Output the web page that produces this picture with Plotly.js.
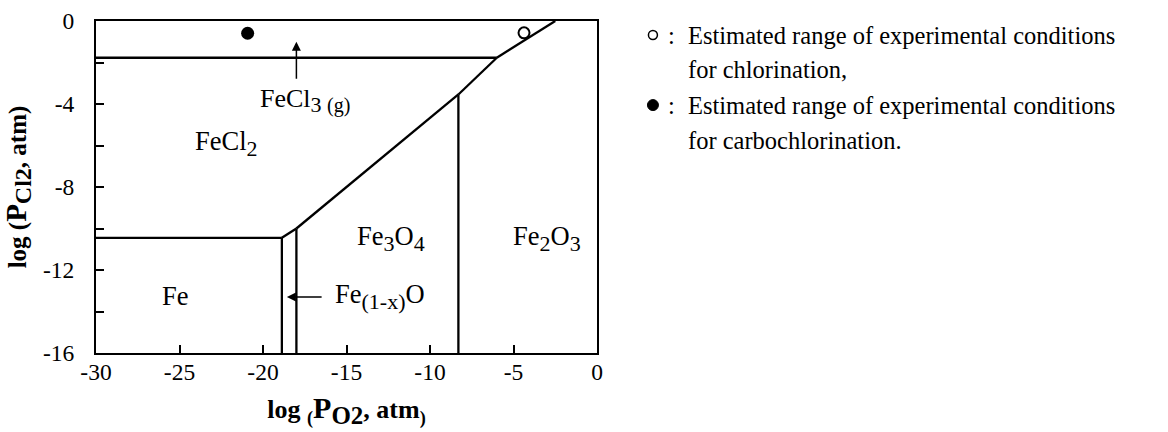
<!DOCTYPE html>
<html>
<head>
<meta charset="utf-8">
<script src="https://cdn.plot.ly/plotly-3.0.1.min.js"></script>
<style>html,body{margin:0;padding:0;background:#fff;}#chart{width:1168px;height:432px;}</style>
</head>
<body>
<div id="chart"></div>
<script>
// Phase boundaries: log(PO2) vs log(PCl2)
const feFeCl2X = [-30, -18.87];       const feFeCl2Y = [-10.45, -10.45];
const feFeOX = [-18.87, -18.87];      const feFeOY = [-10.45, -16];
const feoFe3o4X = [-18, -18];         const feoFe3o4Y = [-10.0, -16];
const feoFeCl2X = [-18.87, -18];      const feoFeCl2Y = [-10.45, -10.0];
const fe3o4FeCl2X = [-18, -8.3];      const fe3o4FeCl2Y = [-10.0, -3.54];
const fe2o3FeCl2X = [-8.3, -6];       const fe2o3FeCl2Y = [-3.54, -1.77];
const fe3o4Fe2o3X = [-8.3, -8.3];     const fe3o4Fe2o3Y = [-3.54, -16];
const feCl2FeCl3X = [-30, -6];        const feCl2FeCl3Y = [-1.77, -1.77];
const fe2o3FeCl3X = [-6, -2.5];       const fe2o3FeCl3Y = [-1.77, 0];

// Experimental conditions
const chlorX = [-4.37];  const chlorY = [-0.57];
const carboX = [-20.92]; const carboY = [-0.59];

// Region labels
const SUB = s => '<sub><span style="font-size:22px">' + s + '</span></sub>';
const labelText = ['FeCl' + SUB('2'), 'Fe' + SUB('3') + 'O' + SUB('4'), 'Fe' + SUB('2') + 'O' + SUB('3'), 'Fe'];
const labelX = [-22.2, -12.33, -2.97, -25.25];
const labelY = [-5.9, -10.47, -10.47, -13.25];

const xTicks = [-30, -25, -20, -15, -10, -5, 0];
const xTickText = ['-30', '-25', '-20', '-15', '-10', '-5', '0'];
const yTicks = [0, -4, -8, -12, -16];
const yTickText = ['0', '-4', '-8', '-12', '-16'];

const FONT = '"Liberation Serif", "Times New Roman", serif';

function seg(x, y) {
  return {x: x, y: y, type: 'scatter', mode: 'lines', line: {color: 'black', width: 2.3}, hoverinfo: 'skip', showlegend: false};
}

const traces = [
  seg(feFeCl2X, feFeCl2Y), seg(feFeOX, feFeOY), seg(feoFe3o4X, feoFe3o4Y), seg(feoFeCl2X, feoFeCl2Y),
  seg(fe3o4FeCl2X, fe3o4FeCl2Y), seg(fe2o3FeCl2X, fe2o3FeCl2Y), seg(fe3o4Fe2o3X, fe3o4Fe2o3Y),
  seg(feCl2FeCl3X, feCl2FeCl3Y), seg(fe2o3FeCl3X, fe2o3FeCl3Y),
  {x: chlorX, y: chlorY, type: 'scatter', mode: 'markers', showlegend: false,
   marker: {symbol: 'circle-open', size: 11, color: 'black', line: {width: 2}}},
  {x: carboX, y: carboY, type: 'scatter', mode: 'markers', showlegend: false,
   marker: {symbol: 'circle', size: 13, color: 'black'}}
];

// paper coordinate helpers for outside-plot elements
const L = 95.5, R = 597, T = 21, B = 352.7;
const px = v => (v - L) / (R - L);
const py = v => (B - v) / (B - T);

const annotations = [];
for (let i = 0; i < labelText.length; i++) {
  annotations.push({x: labelX[i], y: labelY[i], xref: 'x', yref: 'y', text: labelText[i], showarrow: false,
    font: {family: FONT, size: 26.5, color: 'black'}});
}
annotations.push({x: -17.47, y: -3.85, xref: 'x', yref: 'y',
  text: 'FeCl<sub><span style="font-size:22px">3 </span><span style="font-size:20px">(g)</span></sub>', showarrow: false,
  font: {family: FONT, size: 26, color: 'black'}});
annotations.push({x: -18, y: -1.0, ax: -18, ay: -2.85, xref: 'x', yref: 'y', axref: 'x', ayref: 'y',
  text: '', showarrow: true, arrowhead: 2, arrowsize: 1.2, arrowwidth: 1.5, arrowcolor: 'black'});
annotations.push({x: -13.0, y: -13.3, xref: 'x', yref: 'y', text: 'Fe' + SUB('(1-x)') + 'O', showarrow: false,
  font: {family: FONT, size: 26.5, color: 'black'}});
annotations.push({x: -18.57, y: -13.3, ax: -16.4, ay: -13.3, xref: 'x', yref: 'y', axref: 'x', ayref: 'y',
  text: '', showarrow: true, arrowhead: 2, arrowsize: 1.2, arrowwidth: 1.5, arrowcolor: 'black'});

const legendLines = [
  ['Estimated range of experimental conditions', 35],
  ['for chlorination,', 69],
  ['Estimated range of experimental conditions', 105],
  ['for carbochlorination.', 140]
];
legendLines.forEach(l => annotations.push({x: px(686), y: py(l[1]), xref: 'paper', yref: 'paper', xanchor: 'left', yanchor: 'middle',
  text: l[0], showarrow: false, font: {family: FONT, size: 24.5, color: 'black'}}));
[35, 105].forEach(v => annotations.push({x: px(672), y: py(v), xref: 'paper', yref: 'paper', xanchor: 'center', yanchor: 'middle',
  text: ':', showarrow: false, font: {family: FONT, size: 24.5, color: 'black'}}));

const shapes = [
  {type: 'circle', xref: 'paper', yref: 'paper', xsizemode: 'pixel', ysizemode: 'pixel',
   xanchor: px(653), yanchor: py(35), x0: -4.5, x1: 4.5, y0: -4.5, y1: 4.5, line: {color: 'black', width: 1.5}},
  {type: 'circle', xref: 'paper', yref: 'paper', xsizemode: 'pixel', ysizemode: 'pixel',
   xanchor: px(653), yanchor: py(105), x0: -5.5, x1: 5.5, y0: -5.5, y1: 5.5, fillcolor: 'black', line: {color: 'black', width: 1}}
];

const layout = {
  width: 1168, height: 432,
  margin: {l: L, r: 1168 - R, t: T, b: 432 - B},
  paper_bgcolor: 'white', plot_bgcolor: 'white',
  font: {family: FONT, size: 22, color: 'black'},
  showlegend: false,
  xaxis: {range: [-30, 0], tickvals: xTicks, ticktext: xTickText, ticks: 'inside', ticklen: 8, tickwidth: 2, tickcolor: 'black',
    showline: true, linewidth: 2, linecolor: 'black', mirror: true, showgrid: false, zeroline: false,
    ticklabelstandoff: -3, tickfont: {family: FONT, size: 23.5},
    title: {text: '<b>log <sub>(</sub><span style="font-size:30px">P</span><sub><span style="font-size:25px">O2</span></sub>, atm<sub>)</sub></b>',
      font: {family: FONT, size: 26}, standoff: 16}},
  yaxis: {range: [-16, 0], tickvals: yTicks, ticktext: yTickText, ticks: 'inside', ticklen: 8, tickwidth: 2, tickcolor: 'black',
    minor: {dtick: 2, ticks: 'inside', ticklen: 8, tickwidth: 2, tickcolor: 'black', showgrid: false},
    showline: true, linewidth: 2, linecolor: 'black', mirror: true, showgrid: false, zeroline: false,
    ticklabelstandoff: 15, tickfont: {family: FONT, size: 23.5},
    title: {text: '<b>log (<span style="font-size:29px">P</span><sub><span style="font-size:24px">Cl2</span></sub>, atm)</b>',
      font: {family: FONT, size: 25}, standoff: 10}},
  annotations: annotations,
  shapes: shapes
};

Plotly.newPlot('chart', traces, layout, {displayModeBar: false, staticPlot: true});
</script>
</body>
</html>
